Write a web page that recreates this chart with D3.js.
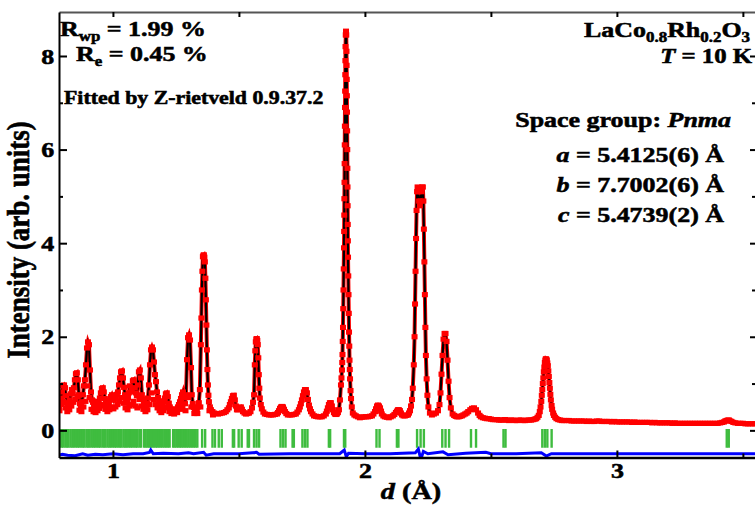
<!DOCTYPE html>
<html lang="en">
<head>
<meta charset="UTF-8">
<title>LaCo0.8Rh0.2O3 Rietveld fit</title>
<script src="https://d3js.org/d3.v7.min.js"></script>
<style>
  body { margin: 0; background: #fff; }
  svg { display: block; }
  text { font-family: "Liberation Serif", "Times New Roman", serif; font-weight: bold; fill: #000; stroke: #000; stroke-width: 0.55; }
</style>
</head>
<body>
<script>
// observed profile, [d (Å), intensity]
const observed = [
  [0.786,0.50],[0.790,0.59],[0.794,0.69],[0.798,0.82],[0.802,0.95],[0.806,0.97],[0.810,0.91],[0.813,0.74],
  [0.817,0.59],[0.821,0.52],[0.825,0.58],[0.829,0.65],[0.833,0.78],[0.837,0.87],[0.841,0.78],[0.845,0.91],
  [0.849,1.08],[0.853,1.21],[0.857,1.23],[0.861,1.08],[0.865,0.76],[0.869,0.57],[0.873,0.52],[0.877,0.61],
  [0.881,0.76],[0.885,0.95],[0.889,1.08],[0.893,1.40],[0.897,1.76],[0.901,1.89],[0.905,1.83],[0.909,1.29],
  [0.913,0.82],[0.917,0.65],[0.921,0.60],[0.925,0.54],[0.929,0.58],[0.933,0.50],[0.937,0.55],[0.940,0.57],
  [0.944,0.62],[0.948,0.69],[0.952,0.80],[0.956,0.89],[0.960,0.91],[0.964,0.82],[0.968,0.68],[0.972,0.59],
  [0.976,0.55],[0.980,0.52],[0.984,0.58],[0.988,0.65],[0.992,0.72],[0.996,0.76],[1.000,0.70],[1.004,0.65],
  [1.008,0.69],[1.012,0.72],[1.016,0.77],[1.020,0.82],[1.024,0.97],[1.028,1.12],[1.032,1.25],[1.036,1.27],
  [1.040,1.12],[1.044,0.92],[1.048,0.76],[1.052,0.66],[1.056,0.61],[1.060,0.70],[1.063,0.80],[1.067,0.95],
  [1.071,0.82],[1.075,0.90],[1.079,1.06],[1.083,1.08],[1.087,0.91],[1.091,0.80],[1.095,0.74],[1.099,0.97],
  [1.103,1.25],[1.107,1.29],[1.111,1.12],[1.115,0.76],[1.119,0.66],[1.123,0.61],[1.127,0.56],[1.131,0.52],
  [1.135,0.58],[1.139,0.69],[1.143,0.97],[1.147,1.40],[1.151,1.72],[1.155,1.78],[1.159,1.72],[1.163,1.46],
  [1.167,1.19],[1.171,1.04],[1.175,0.82],[1.179,0.70],[1.183,0.63],[1.187,0.56],[1.190,0.52],[1.194,0.50],
  [1.198,0.54],[1.202,0.62],[1.206,0.69],[1.210,0.78],[1.214,0.80],[1.218,0.72],[1.222,0.58],[1.226,0.50],
  [1.230,0.46],[1.234,0.44],[1.240,0.43],[1.246,0.44],[1.252,0.46],[1.258,0.50],[1.262,0.55],[1.266,0.61],
  [1.270,0.68],[1.274,0.76],[1.278,0.82],[1.282,0.69],[1.286,0.57],[1.290,0.76],[1.294,1.51],[1.298,1.98],
  [1.302,2.04],[1.306,1.93],[1.310,1.34],[1.313,0.76],[1.317,0.57],[1.321,0.49],[1.325,0.44],[1.329,0.42],
  [1.333,0.44],[1.337,0.50],[1.341,0.59],[1.345,0.87],[1.349,1.83],[1.351,2.40],[1.353,3.00],[1.355,3.40],
  [1.357,3.71],[1.359,3.74],[1.361,3.75],[1.363,3.70],[1.365,3.60],[1.367,3.25],[1.369,2.79],[1.371,2.25],
  [1.373,1.72],[1.375,1.30],[1.377,0.97],[1.379,0.75],[1.381,0.61],[1.385,0.50],[1.389,0.44],[1.395,0.40],
  [1.401,0.37],[1.409,0.36],[1.417,0.35],[1.425,0.36],[1.433,0.37],[1.441,0.38],[1.448,0.40],[1.454,0.44],
  [1.460,0.48],[1.464,0.55],[1.468,0.61],[1.472,0.68],[1.476,0.74],[1.480,0.75],[1.484,0.65],[1.488,0.52],
  [1.492,0.44],[1.496,0.44],[1.500,0.46],[1.504,0.49],[1.508,0.50],[1.512,0.45],[1.516,0.40],[1.522,0.37],
  [1.528,0.35],[1.534,0.36],[1.540,0.37],[1.546,0.40],[1.552,0.48],[1.556,0.60],[1.560,0.76],[1.563,1.40],
  [1.565,1.70],[1.567,1.89],[1.569,1.95],[1.571,1.96],[1.573,1.92],[1.575,1.83],[1.577,1.55],[1.579,1.19],
  [1.581,0.90],[1.583,0.69],[1.587,0.55],[1.591,0.46],[1.597,0.39],[1.603,0.35],[1.611,0.34],[1.619,0.33],
  [1.627,0.33],[1.635,0.33],[1.643,0.34],[1.651,0.35],[1.655,0.38],[1.659,0.42],[1.663,0.47],[1.667,0.50],
  [1.671,0.51],[1.675,0.50],[1.679,0.45],[1.683,0.40],[1.688,0.36],[1.694,0.33],[1.702,0.33],[1.710,0.33],
  [1.718,0.34],[1.726,0.35],[1.732,0.39],[1.738,0.44],[1.742,0.50],[1.746,0.57],[1.750,0.65],[1.754,0.74],
  [1.758,0.82],[1.762,0.87],[1.766,0.87],[1.770,0.80],[1.774,0.66],[1.778,0.54],[1.782,0.46],[1.786,0.40],
  [1.792,0.35],[1.798,0.31],[1.806,0.30],[1.813,0.29],[1.821,0.29],[1.829,0.29],[1.837,0.31],[1.845,0.35],
  [1.849,0.41],[1.853,0.48],[1.857,0.55],[1.861,0.59],[1.865,0.59],[1.869,0.52],[1.873,0.44],[1.877,0.38],
  [1.881,0.35],[1.885,0.34],[1.889,0.35],[1.893,0.38],[1.897,0.44],[1.901,0.65],[1.905,0.97],[1.907,1.12],
  [1.909,1.29],[1.910,1.45],[1.911,1.62],[1.912,1.90],[1.913,2.20],[1.914,2.60],[1.915,3.00],[1.916,3.45],
  [1.917,3.90],[1.9175,4.25],[1.918,4.60],[1.9185,4.95],[1.919,5.30],[1.9195,5.70],[1.920,6.10],[1.9205,6.50],
  [1.921,6.90],[1.9215,7.25],[1.922,7.60],[1.9225,7.90],[1.923,8.20],[1.924,8.45],[1.925,8.53],[1.926,8.45],
  [1.927,8.10],[1.9275,7.80],[1.928,7.50],[1.9285,7.15],[1.929,6.80],[1.9295,6.40],[1.930,6.00],[1.9305,5.60],
  [1.931,5.20],[1.9315,4.80],[1.932,4.40],[1.9325,4.05],[1.933,3.70],[1.934,3.30],[1.935,2.90],[1.936,2.50],
  [1.937,2.10],[1.938,1.80],[1.939,1.50],[1.940,1.30],[1.941,1.10],[1.943,0.85],[1.945,0.68],[1.948,0.50],
  [1.952,0.37],[1.958,0.33],[1.964,0.31],[1.972,0.29],[1.980,0.27],[1.988,0.28],[1.996,0.29],[2.004,0.29],
  [2.012,0.29],[2.020,0.30],[2.028,0.31],[2.034,0.35],[2.040,0.40],[2.044,0.46],[2.048,0.52],[2.052,0.54],
  [2.056,0.52],[2.060,0.48],[2.064,0.41],[2.067,0.35],[2.073,0.31],[2.079,0.29],[2.087,0.28],[2.095,0.27],
  [2.103,0.29],[2.111,0.31],[2.117,0.34],[2.123,0.38],[2.127,0.41],[2.131,0.44],[2.135,0.44],[2.139,0.42],
  [2.143,0.37],[2.147,0.33],[2.153,0.31],[2.159,0.31],[2.165,0.32],[2.171,0.33],[2.175,0.37],[2.179,0.42],
  [2.183,0.52],[2.187,0.66],[2.190,0.90],[2.194,1.40],[2.197,2.00],[2.199,2.70],[2.201,3.40],[2.203,4.10],
  [2.205,4.70],[2.207,5.10],[2.209,5.20],[2.212,5.10],[2.215,4.90],[2.218,4.80],[2.221,4.90],[2.224,5.10],
  [2.227,5.20],[2.230,5.20],[2.232,4.90],[2.234,4.30],[2.236,3.60],[2.238,2.90],[2.240,2.20],[2.242,1.60],
  [2.245,1.10],[2.248,0.75],[2.252,0.50],[2.258,0.37],[2.266,0.33],[2.274,0.35],[2.282,0.37],
  [2.290,0.42],[2.296,0.55],[2.300,0.80],[2.304,1.20],[2.308,1.60],[2.312,1.95],[2.316,2.07],[2.320,2.07],
  [2.324,1.90],[2.328,1.50],[2.332,1.05],[2.336,0.70],[2.341,0.48],[2.348,0.35],[2.354,0.32],[2.360,0.30],
  [2.366,0.29],[2.372,0.29],[2.378,0.30],[2.385,0.31],[2.391,0.33],[2.398,0.35],[2.404,0.37],[2.410,0.40],
  [2.418,0.44],[2.425,0.47],[2.433,0.48],[2.441,0.44],[2.449,0.37],[2.455,0.32],[2.460,0.29],[2.468,0.27],
  [2.476,0.26],[2.484,0.25],[2.492,0.25],[2.500,0.24],[2.508,0.23],[2.516,0.23],[2.524,0.23],[2.532,0.22],
  [2.540,0.22],[2.548,0.22],[2.556,0.23],[2.564,0.22],[2.572,0.21],[2.580,0.22],[2.588,0.22],[2.596,0.21],
  [2.604,0.21],[2.612,0.22],[2.620,0.22],[2.628,0.21],[2.636,0.21],[2.644,0.22],[2.652,0.22],[2.660,0.22],
  [2.668,0.23],[2.674,0.24],[2.680,0.25],[2.685,0.28],[2.690,0.32],[2.694,0.40],[2.697,0.50],[2.700,0.62],
  [2.702,0.75],[2.704,0.87],[2.706,1.00],[2.708,1.12],[2.710,1.25],[2.712,1.35],[2.714,1.45],[2.716,1.50],
  [2.718,1.53],[2.720,1.52],[2.722,1.50],[2.724,1.44],[2.726,1.38],[2.728,1.27],[2.730,1.15],[2.732,1.02],
  [2.734,0.90],[2.736,0.77],[2.738,0.65],[2.741,0.53],[2.743,0.45],[2.747,0.37],[2.750,0.32],[2.755,0.28],
  [2.760,0.25],[2.767,0.23],[2.775,0.22],[2.782,0.21],[2.790,0.21],[2.800,0.21],[2.810,0.21],[2.820,0.20],
  [2.830,0.20],[2.840,0.20],[2.850,0.20],[2.860,0.20],[2.870,0.20],[2.880,0.19],[2.890,0.20],[2.900,0.19],
  [2.910,0.19],[2.920,0.20],[2.930,0.20],[2.940,0.19],[2.950,0.19],[2.960,0.19],[2.970,0.19],[2.980,0.18],
  [2.990,0.19],[3.000,0.18],[3.010,0.18],[3.020,0.18],[3.030,0.18],[3.040,0.18],[3.050,0.18],[3.060,0.17],
  [3.070,0.18],[3.080,0.17],[3.090,0.17],[3.100,0.17],[3.110,0.17],[3.120,0.17],[3.130,0.17],[3.140,0.16],
  [3.150,0.17],[3.160,0.16],[3.170,0.16],[3.180,0.16],[3.190,0.16],[3.200,0.16],[3.210,0.16],[3.220,0.15],
  [3.230,0.16],[3.240,0.15],[3.250,0.15],[3.260,0.15],[3.270,0.15],[3.280,0.15],[3.290,0.15],[3.300,0.15],
  [3.310,0.15],[3.320,0.15],[3.330,0.15],[3.340,0.15],[3.350,0.15],[3.360,0.15],[3.370,0.15],[3.380,0.15],
  [3.390,0.15],[3.400,0.15],[3.410,0.16],[3.418,0.17],[3.425,0.18],[3.430,0.20],[3.435,0.21],[3.440,0.22],
  [3.445,0.22],[3.450,0.20],[3.455,0.19],[3.462,0.17],[3.470,0.16],[3.480,0.15],[3.490,0.15],[3.500,0.15],
  [3.510,0.14],[3.520,0.14],[3.530,0.14],[3.540,0.14],[3.550,0.14],[3.560,0.14]
];

// extra scatter of the observed points in the noisy short-d part, [d, intensity]
const observedScatter = [
  [0.788,0.42],[0.796,0.55],[0.804,0.62],[0.812,0.48],[0.819,0.40],[0.827,0.44],[0.835,0.52],[0.843,0.60],
  [0.851,0.66],[0.859,0.72],[0.867,0.43],[0.875,0.40],[0.883,0.50],[0.891,0.62],[0.899,0.95],[0.907,0.70],
  [0.915,0.45],[0.923,0.40],[0.931,0.38],[0.939,0.42],[0.946,0.47],[0.954,0.52],[0.962,0.55],[0.970,0.45],
  [0.978,0.40],[0.986,0.44],[0.994,0.50],[1.002,0.46],[1.010,0.50],[1.018,0.55],[1.026,0.62],[1.034,0.70],
  [1.042,0.58],[1.050,0.48],[1.058,0.44],[1.065,0.52],[1.073,0.55],[1.081,0.62],[1.089,0.52],[1.097,0.48],
  [1.105,0.66],[1.113,0.52],[1.121,0.45],[1.129,0.40],[1.137,0.44],[1.145,0.55],[1.153,0.80],[1.161,0.66],
  [1.169,0.55],[1.177,0.48],[1.185,0.42],[1.192,0.38],[1.200,0.42],[1.208,0.48],[1.216,0.50],[1.224,0.40],
  [1.232,0.36],[1.243,0.35],[1.255,0.38],[1.268,0.45],[1.276,0.50],[1.288,0.42],[1.300,0.70],[1.311,0.50],
  [1.323,0.36],[1.335,0.36],[1.347,0.50],[1.383,0.42],[1.397,0.33]
];

// difference curve (obs - calc, offset), [d, intensity]
const difference = [
  [0.786,-0.53],[0.80,-0.51],[0.82,-0.53],[0.85,-0.54],[0.88,-0.50],[0.90,-0.53],[0.93,-0.51],[0.96,-0.52],
  [1.00,-0.50],[1.04,-0.52],[1.08,-0.50],[1.12,-0.50],[1.145,-0.47],[1.15,-0.42],[1.16,-0.50],[1.20,-0.49],
  [1.26,-0.50],[1.30,-0.48],[1.32,-0.50],[1.36,-0.47],[1.37,-0.53],[1.40,-0.50],[1.50,-0.50],[1.57,-0.47],
  [1.58,-0.51],[1.70,-0.50],[1.80,-0.50],[1.90,-0.50],[1.918,-0.42],[1.926,-0.56],[1.935,-0.49],[2.00,-0.50],
  [2.10,-0.50],[2.20,-0.48],[2.212,-0.40],[2.222,-0.62],[2.232,-0.45],[2.25,-0.50],[2.31,-0.46],[2.33,-0.52],
  [2.40,-0.49],[2.48,-0.47],[2.50,-0.50],[2.60,-0.50],[2.70,-0.48],[2.72,-0.55],[2.74,-0.50],[3.00,-0.50],
  [3.30,-0.50],[3.56,-0.50]
];

// Bragg reflection positions, d (Å)
const braggD = [
  0.790,0.797,0.803,0.811,0.818,0.824,0.832,0.839,0.845,0.853,0.860,0.866,0.874,0.881,0.887,0.895,
  0.902,0.908,0.916,0.923,0.929,0.937,0.944,0.950,0.958,0.965,0.971,0.979,0.986,0.992,1.000,1.007,
  1.013,1.021,1.028,1.034,1.042,1.049,1.055,1.063,1.070,1.076,1.084,1.091,1.097,1.105,1.112,
  1.124,1.130,1.137,1.143,1.150,1.156,1.163,1.170,1.176,1.183,1.190,1.197,1.204,1.211,1.218,1.225,
  1.239,1.245,1.252,1.259,1.266,1.272,1.279,1.286,1.293,1.300,1.307,1.314,1.321,1.328,1.335,
  1.354,1.366,1.395,1.405,1.420,1.432,1.476,1.481,1.499,1.511,1.535,1.540,1.560,1.570,1.580,
  1.665,1.675,1.685,1.713,1.718,1.752,1.762,1.772,1.857,1.862,1.917,1.922,2.046,2.058,
  2.127,2.133,2.207,2.221,2.234,2.307,2.320,2.334,2.421,2.441,2.550,2.558,
  2.704,2.714,2.724,2.741,3.436,3.444
];

const xMajor = [1, 2, 3];
const xMinor = [1.5, 2.5, 3.5];
const yMajor = [0, 2, 4, 6, 8];
const yMinor = [1, 3, 5, 7];

const width = 755, height = 509;
const plot = { left: 59, right: 758, top: 12, bottom: 457.5 };
const stretch = 1.18; // the glyphs in the figure are a bit wide

const svg = d3.select("body").append("svg")
    .attr("width", width)
    .attr("height", height);

const x = d3.scaleLinear().domain([0.786, 3.56]).range([plot.left, plot.right]);
const y = d3.scaleLinear().domain([-0.58, 8.94]).range([plot.bottom, plot.top]);

svg.append("clipPath").attr("id", "clip")
    .append("rect")
    .attr("x", plot.left).attr("y", plot.top)
    .attr("width", plot.right - plot.left).attr("height", plot.bottom - plot.top);

const gPlot = svg.append("g").attr("clip-path", "url(#clip)");
const profile = d3.line().x(d => x(d[0])).y(d => y(d[1]));

// Bragg ticks
gPlot.selectAll(".bragg")
    .data(braggD)
    .join("line")
    .attr("class", "bragg")
    .attr("x1", d => x(d)).attr("x2", d => x(d))
    .attr("y1", y(0.03)).attr("y2", y(-0.37))
    .attr("stroke", "#3fbc3f")
    .attr("stroke-width", 2.4);

// difference
gPlot.append("path")
    .datum(difference)
    .attr("d", profile)
    .attr("fill", "none")
    .attr("stroke", "#0000ff")
    .attr("stroke-width", 3);

// observed trace under the fit
gPlot.append("path")
    .datum(observed)
    .attr("d", profile)
    .attr("fill", "none")
    .attr("stroke", "#ff0000")
    .attr("stroke-width", 4);

// calculated profile
gPlot.append("path")
    .datum(observed)
    .attr("d", profile)
    .attr("fill", "none")
    .attr("stroke", "#000")
    .attr("stroke-width", 2.2);

// observed points
gPlot.selectAll(".obs")
    .data(observed.concat(observedScatter))
    .join("rect")
    .attr("class", "obs")
    .attr("x", d => x(d[0]) - 3)
    .attr("y", d => y(d[1]) - 2.6)
    .attr("width", 6)
    .attr("height", 5.2)
    .attr("fill", "#ff0000");

// axes
const gx = svg.append("g")
    .attr("transform", `translate(0,${plot.bottom})`)
    .call(d3.axisBottom(x).tickValues(xMajor).tickFormat(d3.format("d"))
        .tickSizeInner(-7).tickSizeOuter(0).tickPadding(5));
gx.select(".domain").attr("stroke-width", 2.5);
gx.selectAll(".tick line").attr("stroke-width", 2);

svg.append("g")
    .attr("transform", `translate(0,${plot.bottom})`)
    .call(d3.axisBottom(x).tickValues(xMinor).tickSize(-4).tickFormat(""))
    .call(g => g.select(".domain").remove())
    .selectAll(".tick line").attr("stroke-width", 2);

svg.append("g")
    .attr("transform", `translate(0,${plot.top})`)
    .call(d3.axisTop(x).tickValues(xMajor.concat(xMinor)).tickSizeInner(-5).tickSizeOuter(0).tickFormat(""))
    .call(g => g.select(".domain").attr("stroke", "#555").attr("stroke-width", 2))
    .selectAll(".tick line").attr("stroke-width", 2);

const gy = svg.append("g")
    .attr("transform", `translate(${plot.left},0)`)
    .call(d3.axisLeft(y).tickValues(yMajor).tickFormat(d3.format("d"))
        .tickSizeInner(-8).tickSizeOuter(0).tickPadding(4));
gy.select(".domain").attr("stroke-width", 2);
gy.selectAll(".tick line").attr("stroke-width", 2);

svg.append("g")
    .attr("transform", `translate(${plot.left},0)`)
    .call(d3.axisLeft(y).tickValues(yMinor).tickSize(-4).tickFormat(""))
    .call(g => g.select(".domain").remove())
    .selectAll(".tick line").attr("stroke-width", 2);

// right side ticks (the frame itself sits just past the edge)
svg.append("g")
    .attr("transform", `translate(${plot.right},0)`)
    .call(d3.axisRight(y).tickValues(yMajor).tickSize(-8).tickFormat(""))
    .call(g => g.select(".domain").remove())
    .selectAll(".tick line").attr("stroke-width", 2);
svg.append("g")
    .attr("transform", `translate(${plot.right},0)`)
    .call(d3.axisRight(y).tickValues(yMinor).tickSize(-6).tickFormat(""))
    .call(g => g.select(".domain").remove())
    .selectAll(".tick line").attr("stroke-width", 2);

svg.selectAll(".tick text")
    .attr("font-size", 22)
    .attr("font-family", null)
    .attr("fill", "#000")
    .attr("transform", `scale(${stretch},1)`);

// text helper: parts are [string, kind], kind "" | "sub" | "it"
function label(px, py, parts, size, anchor) {
    const t = svg.append("text")
        .attr("transform", `translate(${px},${py}) scale(${stretch},1)`)
        .attr("font-size", size)
        .attr("text-anchor", anchor || "start");
    let shifted = false;
    parts.forEach(([s, kind]) => {
        const sp = t.append("tspan").text(s);
        if (kind === "sub") {
            sp.attr("font-size", size * 0.65).attr("dy", shifted ? 0 : size * 0.22);
            shifted = true;
        } else {
            if (shifted) { sp.attr("dy", -size * 0.22); shifted = false; }
            if (kind === "it") sp.attr("font-style", "italic");
        }
    });
    return t;
}

label(60, 36, [["R", ""], ["wp", "sub"], [" = 1.99 %", ""]], 22);
label(76, 61, [["R", ""], ["e", "sub"], [" = 0.45 %", ""]], 22);
label(64, 104, [["Fitted by Z-rietveld 0.9.37.2", ""]], 18.5);

label(750, 37, [["LaCo", ""], ["0.8", "sub"], ["Rh", ""], ["0.2", "sub"], ["O", ""], ["3", "sub"]], 22, "end");
label(752, 63, [["T", "it"], [" = 10 K", ""]], 21, "end");
label(731, 127, [["Space group: ", ""], ["Pnma", "it"]], 22, "end");
label(724, 162, [["a", "it"], [" = 5.4125(6) Å", ""]], 22, "end");
label(724, 192, [["b", "it"], [" = 7.7002(6) Å", ""]], 22, "end");
label(724, 222, [["c", "it"], [" = 5.4739(2) Å", ""]], 22, "end");

label(411, 499, [["d", "it"], [" (Å)", ""]], 24, "middle");

svg.append("text")
    .attr("transform", `translate(29,240) rotate(-90) scale(1,${stretch})`)
    .attr("font-size", 27)
    .attr("text-anchor", "middle")
    .text("Intensity (arb. units)");
</script>
</body>
</html>
